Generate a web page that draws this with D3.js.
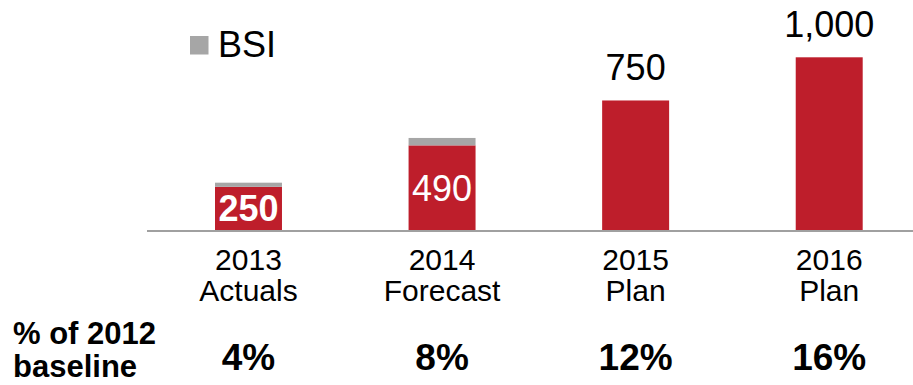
<!DOCTYPE html>
<html>
<head>
<meta charset="utf-8">
<script src="https://cdn.jsdelivr.net/npm/d3@7"></script>
<style>
  html, body { margin: 0; padding: 0; background: #fff; }
  svg { display: block; font-family: Arial, "Liberation Sans", Helvetica, sans-serif; }
</style>
</head>
<body>
<svg id="chart" width="913" height="385"></svg>
<script>
// Program volumes by year, with BSI stacked on top
const years = ["2013", "2014", "2015", "2016"];
const stages = ["Actuals", "Forecast", "Plan", "Plan"];
const mainValues = [250, 490, 750, 1000];
const bsiValues = [24, 43, 0, 0];
const valueLabels = ["250", "490", "750", "1,000"];
const baselinePct = ["4%", "8%", "12%", "16%"];
const legendLabel = "BSI";
const rowLabel = ["% of 2012", "baseline"];

const RED = "#be1e2b";
const GREY = "#a6a6a6";

const svg = d3.select("#chart");

const x = d3.scaleBand()
  .domain(years)
  .range([151.7, 926])
  .paddingInner(0.654)
  .paddingOuter(0.327);

const y = d3.scaleLinear()
  .domain([0, 1000])
  .range([230, 57.3]);

const rows = years.map((yr, i) => ({
  year: yr, stage: stages[i], main: mainValues[i], bsi: bsiValues[i],
  label: valueLabels[i], pct: baselinePct[i], idx: i
}));

// Main red bars
svg.append("g").selectAll("rect.main")
  .data(rows).join("rect")
  .attr("class", "main")
  .attr("x", d => x(d.year))
  .attr("width", x.bandwidth())
  .attr("y", d => y(d.main))
  .attr("height", d => y(0) - y(d.main))
  .attr("fill", RED);

// BSI segments stacked above
svg.append("g").selectAll("rect.bsi")
  .data(rows.filter(d => d.bsi > 0)).join("rect")
  .attr("class", "bsi")
  .attr("x", d => x(d.year))
  .attr("width", x.bandwidth())
  .attr("y", d => y(d.main + d.bsi))
  .attr("height", d => y(d.main) - y(d.main + d.bsi))
  .attr("fill", GREY);

// Baseline axis
svg.append("line")
  .attr("x1", 147).attr("x2", 913)
  .attr("y1", y(0) + 1).attr("y2", y(0) + 1)
  .attr("stroke", "#a0a0a0").attr("stroke-width", 2);

// Value labels: inside the first two bars, above the last two
svg.append("g").selectAll("text.val")
  .data(rows).join("text")
  .attr("class", "val")
  .attr("x", d => x(d.year) + x.bandwidth() / 2)
  .attr("y", d => d.idx < 2 ? (y(d.main) + y(0)) / 2 + 13 : y(d.main) - 20)
  .attr("text-anchor", "middle")
  .attr("font-size", 36)
  .attr("font-weight", d => d.idx === 0 ? "bold" : "normal")
  .attr("fill", d => d.idx < 2 ? "#fff" : "#000")
  .text(d => d.label);

// Category labels (year on the first line, stage on the second)
const catG = svg.append("g").attr("font-size", 30).attr("fill", "#000")
  .attr("text-anchor", "middle");
catG.selectAll("text.yr")
  .data(rows).join("text")
  .attr("class", "yr")
  .attr("x", d => x(d.year) + x.bandwidth() / 2)
  .attr("y", 269.5)
  .text(d => d.year);
catG.selectAll("text.stage")
  .data(rows).join("text")
  .attr("class", "stage")
  .attr("x", d => x(d.year) + x.bandwidth() / 2)
  .attr("y", 300.5)
  .text(d => d.stage);

// Percent of baseline row
svg.append("g").attr("font-size", 31).attr("font-weight", "bold").attr("fill", "#000")
  .selectAll("text.rowlab").data(rowLabel).join("text")
  .attr("class", "rowlab")
  .attr("x", 13)
  .attr("y", (d, i) => 343.5 + i * 33.5)
  .text(d => d);

svg.append("g").selectAll("text.pct")
  .data(rows).join("text")
  .attr("class", "pct")
  .attr("x", d => x(d.year) + x.bandwidth() / 2)
  .attr("y", 370)
  .attr("text-anchor", "middle")
  .attr("font-size", 37)
  .attr("font-weight", "bold")
  .attr("fill", "#000")
  .text(d => d.pct);

// Legend
const lg = svg.append("g");
lg.append("rect")
  .attr("x", 190).attr("y", 36)
  .attr("width", 18.5).attr("height", 18.5)
  .attr("fill", GREY);
lg.append("text")
  .attr("x", 218).attr("y", 56.5)
  .attr("font-size", 36)
  .attr("fill", "#000")
  .text(legendLabel);
</script>
</body>
</html>
